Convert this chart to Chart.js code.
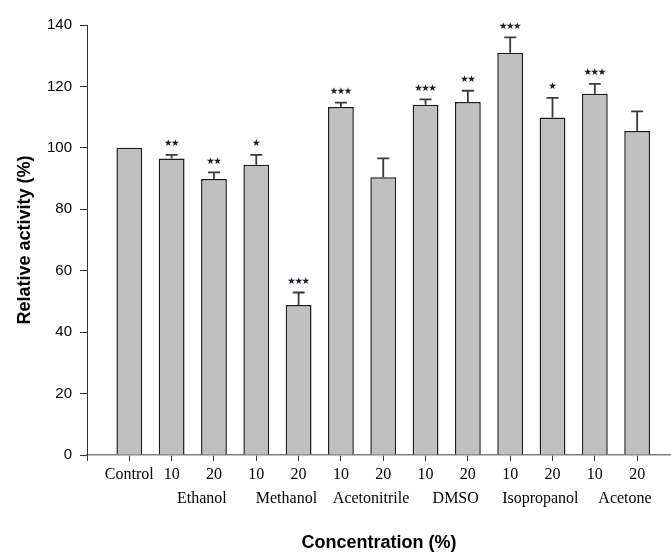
<!DOCTYPE html>
<html>
<head>
<meta charset="utf-8">
<script src="https://cdn.jsdelivr.net/npm/chart.js@4"></script>
<style>
  html, body { margin: 0; padding: 0; background: #ffffff; }
  #wrap { width: 671px; height: 554px; }
</style>
</head>
<body>
<div id="wrap"><canvas id="chart" width="671" height="554"></canvas></div>
<script>
// Tick labels along the concentration axis
const categories = ['Control', '10', '20', '10', '20', '10', '20', '10', '20', '10', '20', '10', '20'];
// Solvent names, one for each pair of 10 % / 20 % bars (after Control)
const solvents = ['Ethanol', 'Methanol', 'Acetonitrile', 'DMSO', 'Isopropanol', 'Acetone'];
// Relative activity (%) and its standard deviation
const activity = [100, 96.5, 89.9, 94.5, 48.8, 113.3, 90.4, 114.0, 114.9, 131.0, 109.9, 117.6, 105.5];
const errorSD = [0, 1.2, 2.1, 3.2, 4.1, 1.4, 6.2, 1.8, 3.7, 5.0, 6.4, 3.2, 6.4];
// Significance marks versus control
const significance = ['', '**', '**', '*', '***', '***', '', '***', '**', '***', '*', '***', ''];
// Y axis ticks
const yTicks = [0, 20, 40, 60, 80, 100, 120, 140];

const STAR = '\u2605';

// Upward error bars with caps, plus significance stars above them
const errorBarPlugin = {
  id: 'errorBars',
  afterDatasetsDraw(chart) {
    const ctx = chart.ctx;
    const yScale = chart.scales.y;
    const meta = chart.getDatasetMeta(0);
    ctx.save();
    meta.data.forEach((bar, i) => {
      const x = bar.x;
      const yBar = yScale.getPixelForValue(activity[i]);
      let yTop = yBar;
      if (errorSD[i] > 0) {
        yTop = yScale.getPixelForValue(activity[i] + errorSD[i]);
        ctx.strokeStyle = '#3a3a3a';
        ctx.lineWidth = 1.8;
        ctx.beginPath();
        ctx.moveTo(x, yBar);
        ctx.lineTo(x, yTop);
        ctx.moveTo(x - 6, yTop);
        ctx.lineTo(x + 6, yTop);
        ctx.stroke();
      }
      const mark = significance[i];
      if (mark) {
        ctx.fillStyle = '#1c1c2a';
        ctx.font = '9.5px "DejaVu Sans"';
        ctx.letterSpacing = '-1.5px';
        ctx.textAlign = 'center';
        ctx.textBaseline = 'middle';
        ctx.fillText(STAR.repeat(mark.length), x - 0.7, yTop - 11);
      }
    });
    ctx.restore();
  }
};

// Solvent names centred under each 10 / 20 pair, and the short axis stub below the origin
const groupLabelPlugin = {
  id: 'groupLabels',
  afterDraw(chart) {
    const ctx = chart.ctx;
    const xScale = chart.scales.x;
    const area = chart.chartArea;
    ctx.save();
    ctx.strokeStyle = '#333333';
    ctx.lineWidth = 1;
    ctx.beginPath();
    ctx.moveTo(area.left + 0.5, area.bottom);
    ctx.lineTo(area.left + 0.5, area.bottom + 6);
    ctx.stroke();

    ctx.fillStyle = '#000000';
    ctx.font = '16px "Liberation Serif"';
    ctx.textAlign = 'center';
    ctx.textBaseline = 'middle';
    solvents.forEach((name, k) => {
      const a = xScale.getPixelForValue(1 + 2 * k);
      const b = xScale.getPixelForValue(2 + 2 * k);
      ctx.fillText(name, (a + b) / 2 + 9, 499);
    });
    ctx.restore();
  }
};

new Chart(document.getElementById('chart'), {
  type: 'bar',
  data: {
    datasets: [{
      data: activity.map((v, i) => ({ x: i, y: v })),
      backgroundColor: '#c0c0c0',
      borderColor: '#1e1e1e',
      borderWidth: 1.5,
      borderSkipped: 'bottom',
      barPercentage: 0.61,
      categoryPercentage: 1.0
    }]
  },
  options: {
    responsive: false,
    animation: false,
    devicePixelRatio: 1,
    layout: { padding: { top: 25, right: 0, bottom: 0, left: 0 } },
    plugins: {
      legend: { display: false },
      tooltip: { enabled: false }
    },
    scales: {
      x: {
        type: 'linear',
        offset: false,
        min: -1,
        max: 12.8,
        afterBuildTicks(scale) {
          scale.ticks = categories.map((_, i) => ({ value: i }));
        },
        afterFit(scale) { scale.height = 99; },
        grid: {
          offset: false,
          drawOnChartArea: false,
          drawTicks: true,
          tickLength: 6,
          color: '#333333',
          lineWidth: 1
        },
        border: { display: true, color: '#808080', width: 1.6 },
        ticks: {
          autoSkip: false,
          maxRotation: 0,
          padding: 4,
          color: '#000000',
          font: { family: '"Liberation Serif"', size: 16 },
          callback: (value) => categories[value]
        },
        title: {
          display: true,
          text: 'Concentration (%)',
          color: '#000000',
          font: { family: '"Liberation Sans"', size: 18, weight: 'bold' },
          padding: { top: 0, bottom: 0 }
        }
      },
      y: {
        min: 0,
        max: 140,
        afterBuildTicks(scale) {
          scale.ticks = yTicks.map(v => ({ value: v }));
        },
        afterFit(scale) { scale.width = 87; },
        grid: {
          drawOnChartArea: false,
          drawTicks: true,
          tickLength: 7,
          color: '#333333',
          lineWidth: 1
        },
        border: { display: true, color: '#333333', width: 1 },
        ticks: {
          padding: 8,
          color: '#000000',
          font: { family: '"Liberation Sans"', size: 15 }
        },
        title: {
          display: true,
          text: 'Relative activity (%)',
          color: '#000000',
          font: { family: '"Liberation Sans"', size: 18, weight: 'bold' },
          padding: { top: 14, bottom: 0 }
        }
      }
    }
  },
  plugins: [errorBarPlugin, groupLabelPlugin]
});
</script>
</body>
</html>
